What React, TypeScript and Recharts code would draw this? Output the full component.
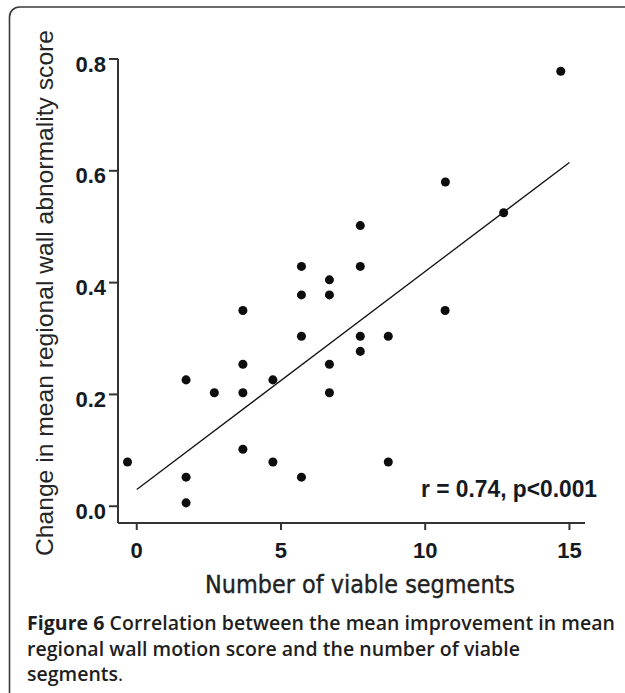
import React from "react";
import {
  ScatterChart,
  Scatter,
  XAxis,
  YAxis,
  ZAxis,
  ReferenceLine,
} from "recharts";

// viable segments (x) vs change in regional wall abnormality score (y)
const SEGMENTS = [
  14.7, 10.7, 12.72, 7.75, 5.71, 7.75, 6.68, 5.71, 6.68, 3.68, 10.69, 5.71, 7.75,
  8.72, 7.75, 3.68, 6.68, 1.71, 4.72, 2.69, 3.68, 6.68, 3.68, -0.32, 4.72, 8.72,
  1.71, 5.71, 1.71,
];
const SCORE_CHANGE = [
  0.778, 0.58, 0.525, 0.502, 0.429, 0.429, 0.405, 0.378, 0.378, 0.35, 0.35,
  0.304, 0.304, 0.304, 0.277, 0.254, 0.254, 0.226, 0.226, 0.203, 0.203, 0.203,
  0.102, 0.079, 0.079, 0.079, 0.052, 0.052, 0.006,
];

// regression line end points
const FIT_X = [0, 15];
const FIT_Y = [0.03, 0.615];

const X_TICKS = [0, 5, 10, 15];
const Y_TICKS = [0, 0.2, 0.4, 0.6, 0.8];

const points = SEGMENTS.map((x, i) => ({ x, y: SCORE_CHANGE[i] }));

const AXIS_COLOR = "#333";
const TEXT_COLOR = "#151a22";

const YTick = (props: any) => {
  const { x, y, payload } = props;
  return (
    <text
      x={x}
      y={y + 12.5}
      textAnchor="end"
      fontFamily="Liberation Sans, Arial, sans-serif"
      fontWeight="bold"
      fontSize={22}
      fill={TEXT_COLOR}
    >
      {Number(payload.value).toFixed(1)}
    </text>
  );
};

const XTick = (props: any) => {
  const { x, y, payload } = props;
  return (
    <text
      x={x}
      y={y + 26}
      textAnchor="middle"
      fontFamily="Liberation Sans, Arial, sans-serif"
      fontWeight="bold"
      fontSize={22}
      fill={TEXT_COLOR}
    >
      {payload.value}
    </text>
  );
};

export default function App() {
  return (
    <div
      style={{
        position: "absolute",
        left: 0,
        top: 0,
        width: 625,
        height: 693,
        background: "#fff",
        overflow: "hidden",
      }}
    >
      <ScatterChart
        width={625}
        height={693}
        margin={{ top: 59, right: 40, bottom: 140, left: 58 }}
      >
        <XAxis
          type="number"
          dataKey="x"
          domain={[-0.65, 15.54]}
          ticks={X_TICKS}
          allowDataOverflow
          height={30}
          tickSize={7}
          tickMargin={2}
          axisLine={{ stroke: AXIS_COLOR, strokeWidth: 2 }}
          tickLine={{ stroke: AXIS_COLOR, strokeWidth: 2 }}
          tick={<XTick />}
        />
        <YAxis
          type="number"
          dataKey="y"
          domain={[-0.03, 0.8]}
          ticks={Y_TICKS}
          allowDataOverflow
          width={60}
          tickSize={9}
          tickMargin={3}
          axisLine={{ stroke: AXIS_COLOR, strokeWidth: 2 }}
          tickLine={{ stroke: AXIS_COLOR, strokeWidth: 2 }}
          tick={<YTick />}
        />
        <ZAxis range={[95, 95]} />
        <ReferenceLine
          segment={[
            { x: FIT_X[0], y: FIT_Y[0] },
            { x: FIT_X[1], y: FIT_Y[1] },
          ]}
          stroke="#111"
          strokeWidth={1.3}
          ifOverflow="visible"
        />
        <Scatter data={points} fill="#0d0d0d" isAnimationActive={false} />
      </ScatterChart>

      <svg
        width={625}
        height={693}
        style={{ position: "absolute", left: 0, top: 0, pointerEvents: "none" }}
      >
        <rect
          x={9.5}
          y={7}
          width={720}
          height={800}
          rx={10}
          fill="none"
          stroke="#3a3a3a"
          strokeWidth={1.6}
        />
        <text
          transform="translate(53, 293) rotate(-90)"
          textAnchor="middle"
          fontFamily="Liberation Sans, Arial, sans-serif"
          fontSize={24}
          fill="#252525"
          textLength={526}
          lengthAdjust="spacingAndGlyphs"
        >
          Change in mean regional wall abnormality score
        </text>
        <text
          x={360}
          y={593}
          textAnchor="middle"
          fontFamily="DejaVu Sans, sans-serif"
          fontSize={24}
          fill="#222"
          stroke="#222"
          strokeWidth={0.4}
          textLength={310}
          lengthAdjust="spacingAndGlyphs"
        >
          Number of viable segments
        </text>
        <text
          x={421}
          y={497}
          fontFamily="Liberation Sans, Arial, sans-serif"
          fontWeight="bold"
          fontSize={23}
          fill={TEXT_COLOR}
          textLength={176}
          lengthAdjust="spacingAndGlyphs"
        >
          r = 0.74, p&lt;0.001
        </text>

        <g fontFamily="Open Sans, sans-serif" fontSize={19.5} fill="#1e1e1e">
          <text x={27} y={630} textLength={588} lengthAdjust="spacing">
            <tspan fontWeight={700}>Figure 6</tspan>
            <tspan fontWeight={600}> Correlation between the mean improvement in mean</tspan>
          </text>
          <text x={27} y={656} fontWeight={600} textLength={493} lengthAdjust="spacing">
            regional wall motion score and the number of viable
          </text>
          <text x={27} y={681} fontWeight={600}>
            segments<tspan fontWeight={400}>.</tspan>
          </text>
        </g>
      </svg>
    </div>
  );
}
